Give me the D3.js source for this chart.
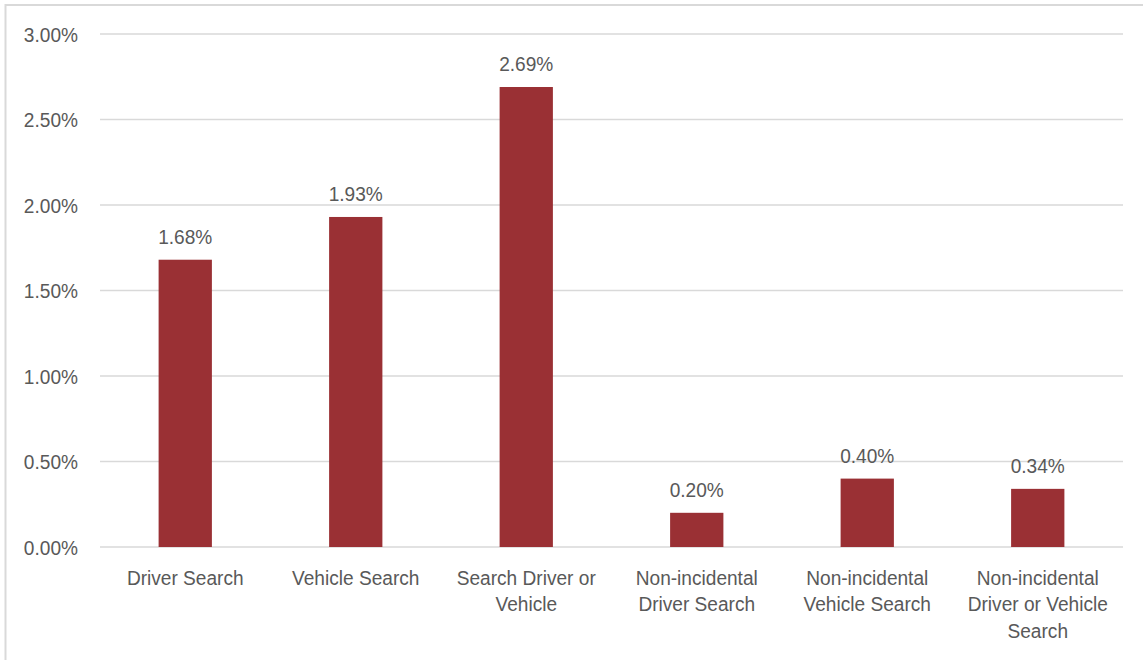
<!DOCTYPE html>
<html>
<head>
<meta charset="utf-8">
<script src="https://cdn.jsdelivr.net/npm/d3@7"></script>
<style>
  html, body { margin: 0; padding: 0; background: #ffffff; }
  svg { display: block; }
  text { font-family: "Liberation Sans", Arial, sans-serif; fill: #595959; }
</style>
</head>
<body>
<svg id="chart" width="1143" height="660"></svg>
<script>
// Search rates by search type
const categories = [
  ["Driver Search"],
  ["Vehicle Search"],
  ["Search Driver or", "Vehicle"],
  ["Non-incidental", "Driver Search"],
  ["Non-incidental", "Vehicle Search"],
  ["Non-incidental", "Driver or Vehicle", "Search"]
];
const values = [1.68, 1.93, 2.69, 0.20, 0.40, 0.34];
const valueLabels = ["1.68%", "1.93%", "2.69%", "0.20%", "0.40%", "0.34%"];
const yTicks = [0, 0.5, 1.0, 1.5, 2.0, 2.5, 3.0];

const W = 1143, H = 660;
const margin = { left: 100, right: 20, top: 34, bottom: 113 };
const fontSize = 21;
const squeeze = 0.91;

const svg = d3.select("#chart");

// outer frame
svg.append("rect")
  .attr("x", 5.5).attr("y", 5)
  .attr("width", W + 20).attr("height", H + 20)
  .attr("fill", "none")
  .attr("stroke", "#d9d9d9")
  .attr("stroke-width", 2);

const keys = categories.map((c, i) => "c" + i);

const x = d3.scaleBand()
  .domain(keys)
  .range([margin.left, W - margin.right])
  .paddingInner(0.6875)
  .paddingOuter(0.34375);

const y = d3.scaleLinear()
  .domain([0, 3.0])
  .range([H - margin.bottom, margin.top]);

// horizontal gridlines
svg.append("g")
  .selectAll("line")
  .data(yTicks)
  .join("line")
  .attr("x1", margin.left)
  .attr("x2", W - margin.right)
  .attr("y1", d => y(d))
  .attr("y2", d => y(d))
  .attr("stroke", "#d9d9d9")
  .attr("stroke-width", 1.6);

// y-axis tick labels
svg.append("g")
  .selectAll("text")
  .data(yTicks)
  .join("text")
  .attr("text-anchor", "end")
  .attr("font-size", fontSize)
  .attr("transform", d => `translate(78,${y(d) + 7.5}) scale(${squeeze},1)`)
  .text(d => d3.format(".2f")(d) + "%");

// bars
svg.append("g")
  .selectAll("rect")
  .data(values)
  .join("rect")
  .attr("x", (d, i) => x(keys[i]))
  .attr("width", x.bandwidth())
  .attr("y", d => y(d))
  .attr("height", d => y(0) - y(d))
  .attr("fill", "#9a3034");

// value labels
svg.append("g")
  .selectAll("text")
  .data(values)
  .join("text")
  .attr("text-anchor", "middle")
  .attr("font-size", fontSize)
  .attr("transform", (d, i) => `translate(${x(keys[i]) + x.bandwidth() / 2},${y(d) - 16}) scale(${squeeze},1)`)
  .text((d, i) => valueLabels[i]);

// category labels
const catG = svg.append("g");
categories.forEach((lines, i) => {
  const cx = x(keys[i]) + x.bandwidth() / 2;
  const t = catG.append("text")
    .attr("text-anchor", "middle")
    .attr("font-size", fontSize)
    .attr("transform", `translate(${cx},${y(0) + 37.5}) scale(${squeeze},1)`);
  lines.forEach((ln, j) => {
    t.append("tspan")
      .attr("x", 0)
      .attr("y", j * 27)
      .text(ln);
  });
});
</script>
</body>
</html>
